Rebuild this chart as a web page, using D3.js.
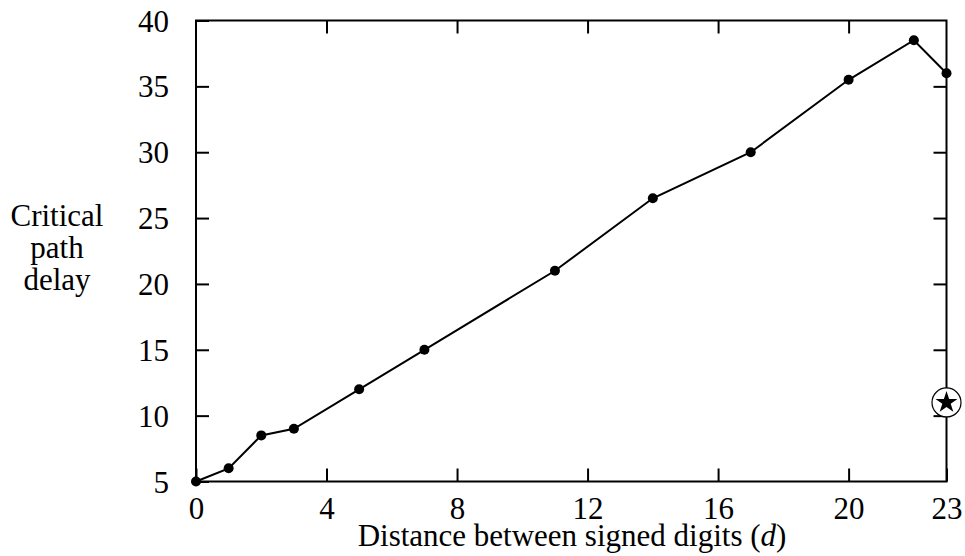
<!DOCTYPE html>
<html>
<head>
<meta charset="utf-8">
<script src="https://cdn.jsdelivr.net/npm/d3@7"></script>
<style>
  body { margin: 0; background: #fff; }
  svg { display: block; }
</style>
</head>
<body>
<svg width="965" height="556"></svg>
<script>
let distance = [0, 1, 2, 3, 5, 7, 11, 14, 17, 20, 22, 23];
let delay = [5, 6, 8.5, 9, 12, 15, 21, 26.5, 30, 35.5, 38.5, 36];
let xTicks = [0, 4, 8, 12, 16, 20, 23];
let yTicks = [5, 10, 15, 20, 25, 30, 35, 40];
let starPoint = [{d: 23, v: 11}];
let yLabel = ["Critical", "path", "delay"];

let margin = {top: 20.5, right: 18.5, bottom: 74.5, left: 196};
let width = 965 - margin.left - margin.right;
let height = 556 - margin.top - margin.bottom;
let font = "'Liberation Serif', 'Times New Roman', serif";
let fs = 31;

const svg = d3.select("svg");
const g = svg.append("g")
    .attr("transform", `translate(${margin.left},${margin.top})`);

const x = d3.scaleLinear().domain([0, 23]).range([0, width]);
const y = d3.scaleLinear().domain([5, 40]).range([height, 0]);

// frame
g.append("rect")
    .attr("width", width)
    .attr("height", height)
    .attr("fill", "none")
    .attr("stroke", "#000")
    .attr("stroke-width", 2);

// axes with inward ticks, mirrored on top and right
const tl = 13;
const bottomAxis = g.append("g")
    .attr("transform", `translate(0,${height})`)
    .call(d3.axisBottom(x).tickValues(xTicks).tickSize(-tl).tickPadding(tl + 2));
const leftAxis = g.append("g")
    .call(d3.axisLeft(y).tickValues(yTicks).tickSize(-tl).tickPadding(tl + 14));
g.append("g")
    .call(d3.axisTop(x).tickValues(xTicks.filter(t => t > 0 && t < 23)).tickSize(-tl).tickFormat(""));
g.append("g")
    .attr("transform", `translate(${width},0)`)
    .call(d3.axisRight(y).tickValues(yTicks.filter(t => t > 5 && t < 40)).tickSize(-tl).tickFormat(""));

g.selectAll(".domain").remove();
g.selectAll(".tick line").attr("stroke", "#000").attr("stroke-width", 2);
g.selectAll(".tick text")
    .attr("font-family", font)
    .attr("font-size", fs)
    .attr("fill", "#000");
bottomAxis.selectAll(".tick text").attr("dy", "0.71em");
leftAxis.selectAll(".tick text").attr("dy", "0.34em");

// line
const pts = distance.map((d, i) => ({d: d, v: delay[i]}));
g.append("path")
    .datum(pts)
    .attr("fill", "none")
    .attr("stroke", "#000")
    .attr("stroke-width", 2)
    .attr("d", d3.line().x(d => x(d.d)).y(d => y(d.v)));

g.append("g")
    .selectAll("circle")
    .data(pts)
    .join("circle")
    .attr("cx", d => x(d.d))
    .attr("cy", d => y(d.v))
    .attr("r", 5)
    .attr("fill", "#000");

// star marker
const star = g.append("g")
    .selectAll("g")
    .data(starPoint)
    .join("g")
    .attr("transform", d => `translate(${x(d.d)},${y(d.v)})`);
star.append("circle")
    .attr("r", 14.5)
    .attr("fill", "#fff")
    .attr("stroke", "#000")
    .attr("stroke-width", 1.2);
star.append("path")
    .attr("d", d3.symbol(d3.symbolStar, 150))
    .attr("fill", "#000");

// labels
svg.append("text")
    .attr("x", 572)
    .attr("y", 546)
    .attr("text-anchor", "middle")
    .attr("font-family", font)
    .attr("font-size", fs)
    .html("Distance between signed digits (<tspan font-style='italic'>d</tspan>)");

svg.append("text")
    .attr("font-family", font)
    .attr("font-size", fs)
    .attr("text-anchor", "middle")
    .selectAll("tspan")
    .data(yLabel)
    .join("tspan")
    .attr("x", 57)
    .attr("y", (d, i) => 226 + i * 32)
    .text(d => d);
</script>
</body>
</html>
